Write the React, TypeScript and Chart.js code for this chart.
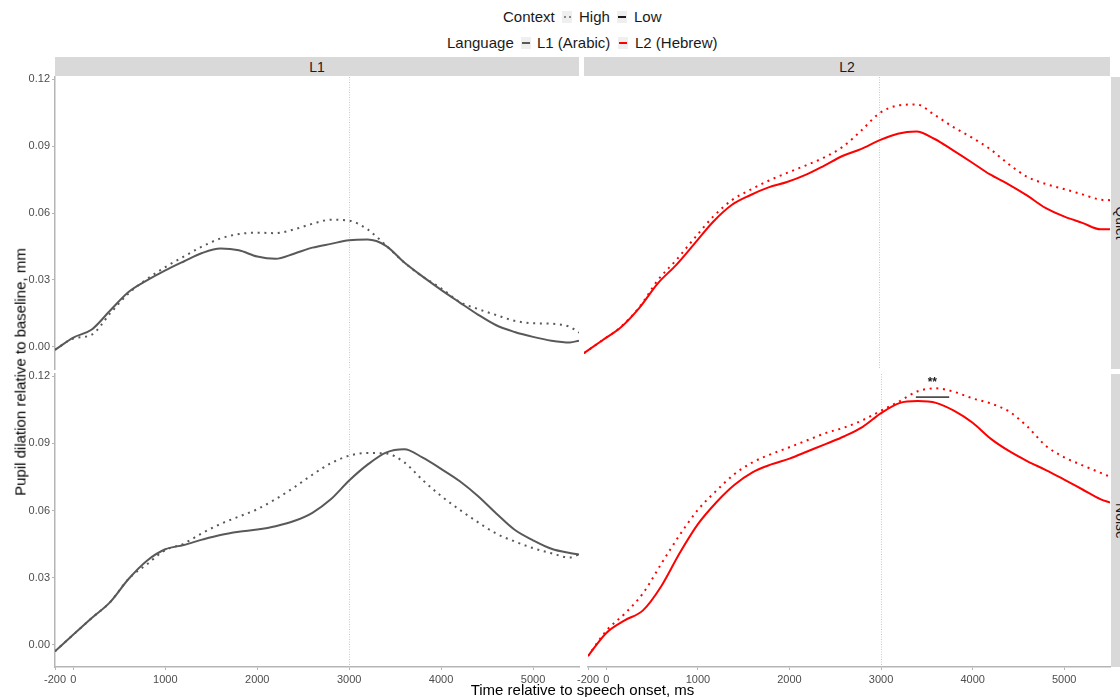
import React, { useEffect, useRef } from "react";
import { Chart, registerables } from "chart.js";

Chart.register(...registerables);

const FONT = '"Liberation Sans", Arial, Helvetica, sans-serif';

// Time grid (ms relative to speech onset)
const timeMs = [-200, 0, 200, 400, 600, 800, 1000, 1200, 1400, 1600, 1800, 2000, 2200, 2400, 2600, 2800, 3000, 3200, 3400, 3600, 3800, 4000, 4200, 4400, 4600, 4800, 5000, 5200, 5400, 5500];

// L1 (Arabic), Quiet
const l1QuietHigh = [-0.0013, 0.0038, 0.0055, 0.015, 0.024, 0.0304, 0.0358, 0.0405, 0.045, 0.0486, 0.0506, 0.0512, 0.051, 0.0527, 0.0552, 0.057, 0.0566, 0.0527, 0.0455, 0.0378, 0.0315, 0.0263, 0.0202, 0.017, 0.0143, 0.0117, 0.0106, 0.0104, 0.009, 0.0064];
const l1QuietLow = [-0.0013, 0.0042, 0.0078, 0.0163, 0.0246, 0.0298, 0.0343, 0.0383, 0.0421, 0.0441, 0.0433, 0.0405, 0.0395, 0.0418, 0.0445, 0.0462, 0.0478, 0.0481, 0.0453, 0.0378, 0.0315, 0.0256, 0.02, 0.0145, 0.0097, 0.0067, 0.0045, 0.0028, 0.002, 0.0028];

// L2 (Hebrew), Quiet
const l2QuietHigh = [-0.0028, 0.003, 0.009, 0.0178, 0.0299, 0.039, 0.0489, 0.0584, 0.0657, 0.0704, 0.0745, 0.078, 0.0813, 0.0849, 0.0896, 0.0968, 0.1047, 0.1082, 0.1087, 0.104, 0.0986, 0.0939, 0.0887, 0.082, 0.0763, 0.0731, 0.0708, 0.0684, 0.066, 0.0658];
const l2QuietLow = [-0.0028, 0.003, 0.0088, 0.0175, 0.0285, 0.0368, 0.0464, 0.0561, 0.0636, 0.068, 0.0715, 0.0739, 0.0771, 0.0812, 0.0856, 0.0887, 0.0926, 0.0956, 0.0966, 0.0932, 0.0881, 0.0828, 0.0773, 0.0729, 0.0679, 0.0623, 0.0585, 0.0556, 0.0527, 0.0528];

// L1 (Arabic), Noise
const l1NoiseHigh = [-0.0029, 0.0046, 0.012, 0.0191, 0.0295, 0.036, 0.0423, 0.0452, 0.0499, 0.054, 0.0573, 0.0606, 0.0651, 0.0703, 0.076, 0.0811, 0.0845, 0.0857, 0.0855, 0.0815, 0.0736, 0.0665, 0.0604, 0.0548, 0.0497, 0.0462, 0.0432, 0.0409, 0.039, 0.0404];
const l1NoiseLow = [-0.0029, 0.0046, 0.012, 0.0191, 0.0294, 0.0376, 0.0427, 0.0446, 0.047, 0.0491, 0.0505, 0.0515, 0.053, 0.0553, 0.059, 0.065, 0.0734, 0.0805, 0.0859, 0.0874, 0.0836, 0.0786, 0.0732, 0.0665, 0.0587, 0.0514, 0.0467, 0.0429, 0.041, 0.0404];

// L2 (Hebrew), Noise
const l2NoiseHigh = [-0.005, 0.0063, 0.0139, 0.023, 0.0362, 0.049, 0.0603, 0.0688, 0.0763, 0.0816, 0.0852, 0.0883, 0.0915, 0.0947, 0.0971, 0.1004, 0.1046, 0.1088, 0.1133, 0.1146, 0.113, 0.1101, 0.1078, 0.1042, 0.0974, 0.0889, 0.0838, 0.0802, 0.0768, 0.0751];
const l2NoiseLow = [-0.005, 0.0053, 0.0109, 0.0154, 0.0262, 0.0409, 0.0539, 0.0636, 0.0715, 0.0772, 0.0806, 0.0832, 0.0865, 0.0898, 0.0932, 0.0974, 0.1035, 0.108, 0.1089, 0.1081, 0.1045, 0.0992, 0.092, 0.0865, 0.082, 0.0781, 0.0738, 0.0694, 0.065, 0.0636];

// Axes
const xTickValues = [-200, 0, 1000, 2000, 3000, 4000, 5000];
const yTickValues = [0, 0.03, 0.06, 0.09, 0.12];
const xMin = -200;
const xMax = 5500;
const yMin = -0.0099;
const yMax = 0.121;

// Annotations
const onsetLineX = 3000;
const sigBarX = [3380, 3744];
const sigBarY = 0.1107;
const sigLabel = "**";
const sigLabelX = 3560;
const sigLabelY = 0.1172;

const L1_COLOR = "#595959";
const L2_COLOR = "#ff0000";
const AXIS_COLOR = "#b5b5b5";
const TICK_TEXT = "#4d4d4d";

const annotPlugin = {
  id: "annot",
  beforeDatasetsDraw(chart: any) {
    const { ctx, chartArea, scales } = chart;
    const x = Math.round(scales.x.getPixelForValue(onsetLineX)) + 0.5;
    ctx.save();
    ctx.strokeStyle = "#c8c8c8";
    ctx.lineWidth = 1;
    ctx.setLineDash([1, 1.5]);
    ctx.beginPath();
    ctx.moveTo(x, chartArea.top);
    ctx.lineTo(x, chartArea.bottom);
    ctx.stroke();
    ctx.restore();
  },
  afterDatasetsDraw(chart: any, _args: any, opts: any) {
    if (!opts || !opts.sig) return;
    const { ctx, scales } = chart;
    ctx.save();
    ctx.fillStyle = "#1a1a1a";
    ctx.font = `bold 12px ${FONT}`;
    ctx.textAlign = "center";
    ctx.textBaseline = "middle";
    ctx.fillText(sigLabel, scales.x.getPixelForValue(sigLabelX), scales.y.getPixelForValue(sigLabelY));
    ctx.restore();
  },
};

type PanelProps = {
  left: number;
  top: number;
  width: number;
  height: number;
  pad: { top: number; right: number; bottom: number; left: number };
  high: number[];
  low: number[];
  color: string;
  showX: boolean;
  showY: boolean;
  sig?: boolean;
};

function Panel(p: PanelProps) {
  const ref = useRef<HTMLCanvasElement>(null);
  useEffect(() => {
    const canvas = ref.current;
    if (!canvas) return;
    const series = (vals: number[], dotted: boolean) => ({
      data: timeMs.map((t, i) => ({ x: t, y: vals[i] })),
      borderColor: p.color,
      borderWidth: 2,
      borderDash: dotted ? [2, 4.7] : [],
      pointRadius: 0,
      cubicInterpolationMode: "monotone" as const,
      fill: false,
    });
    const datasets: any[] = [series(p.low, false), series(p.high, true)];
    if (p.sig) {
      datasets.unshift({
        data: sigBarX.map((x) => ({ x, y: sigBarY })),
        borderColor: "#4d4d4d",
        borderWidth: 1.8,
        pointRadius: 0,
        fill: false,
      });
    }
    const chart = new Chart(canvas, {
      type: "line",
      data: { datasets },
      plugins: [annotPlugin],
      options: {
        responsive: false,
        maintainAspectRatio: false,
        animation: false,
        events: [],
        layout: { padding: p.pad },
        plugins: {
          legend: { display: false },
          tooltip: { enabled: false },
          annot: { sig: !!p.sig },
        } as any,
        scales: {
          x: {
            type: "linear",
            min: xMin,
            max: xMax,
            display: p.showX,
            afterBuildTicks: (s: any) => {
              s.ticks = xTickValues.map((v) => ({ value: v }));
            },
            afterFit: (s: any) => {
              s.height = p.showX ? 30 : 0;
            },
            ticks: {
              autoSkip: false,
              maxRotation: 0,
              color: TICK_TEXT,
              padding: 3,
              font: { size: 11, family: FONT },
              callback: (v: any) => String(v),
            },
            grid: { drawOnChartArea: false, drawTicks: true, tickLength: 3, color: AXIS_COLOR, lineWidth: 1 },
            border: { display: true, color: AXIS_COLOR, width: 1.5 },
          },
          y: {
            type: "linear",
            min: yMin,
            max: yMax,
            display: p.showY,
            afterBuildTicks: (s: any) => {
              s.ticks = yTickValues.map((v) => ({ value: v }));
            },
            afterFit: (s: any) => {
              s.width = p.showY ? 55 : 0;
            },
            ticks: {
              color: TICK_TEXT,
              padding: 2,
              font: { size: 11, family: FONT },
              callback: (v: any) => Number(v).toFixed(2),
            },
            grid: { drawOnChartArea: false, drawTicks: true, tickLength: 3, color: AXIS_COLOR, lineWidth: 1 },
            border: { display: true, color: AXIS_COLOR, width: 1.5 },
          },
        },
      } as any,
    });
    return () => chart.destroy();
  }, []);
  return (
    <canvas
      ref={ref}
      width={p.width}
      height={p.height}
      style={{ position: "absolute", left: p.left, top: p.top, width: p.width, height: p.height }}
    />
  );
}

const abs = (s: React.CSSProperties): React.CSSProperties => ({ position: "absolute", ...s });

function Key({ left, top, kind, color }: { left: number; top: number; kind: "solid" | "dotted"; color: string }) {
  return (
    <div style={abs({ left, top, width: 10, height: 12, background: "#efefef" })}>
      {kind === "solid" ? (
        <div style={abs({ left: 1, top: 5, width: 8, height: 2, background: color })} />
      ) : (
        <>
          <div style={abs({ left: 2, top: 5, width: 2, height: 2, background: color })} />
          <div style={abs({ left: 6.5, top: 5, width: 2, height: 2, background: color })} />
        </>
      )}
    </div>
  );
}

function Label({ left, cy, text, size = 15, color = "#1a1a1a" }: { left: number; cy: number; text: string; size?: number; color?: string }) {
  return (
    <div style={abs({ left, top: cy - 10, height: 20, lineHeight: "20px", fontSize: size, color, whiteSpace: "nowrap" })}>{text}</div>
  );
}

export default function App() {
  const stripStyle: React.CSSProperties = {
    background: "#d9d9d9",
    color: "#1a1a1a",
    fontSize: 14,
    display: "flex",
    alignItems: "center",
    justifyContent: "center",
  };
  return (
    <div
      style={{
        position: "fixed",
        left: 0,
        top: 0,
        width: 1120,
        height: 697,
        overflow: "hidden",
        background: "#ffffff",
        fontFamily: FONT,
      }}
    >
      {/* Legend */}
      <Label left={503} cy={17} text="Context" />
      <Key left={562} top={11} kind="dotted" color="#8a8a8a" />
      <Label left={579} cy={17} text="High" />
      <Key left={617} top={11} kind="solid" color="#1a1a1a" />
      <Label left={634} cy={17} text="Low" />
      <Label left={447} cy={43} text="Language" />
      <Key left={521} top={37} kind="solid" color={L1_COLOR} />
      <Label left={537} cy={43} text="L1 (Arabic)" />
      <Key left={618} top={37} kind="solid" color={L2_COLOR} />
      <Label left={635} cy={43} text="L2 (Hebrew)" />

      {/* Strips */}
      <div style={abs({ left: 55, top: 57, width: 524, height: 19, ...stripStyle })}>L1</div>
      <div style={abs({ left: 584, top: 57, width: 526, height: 19, ...stripStyle })}>L2</div>
      <div style={abs({ left: 1111, top: 77, width: 20, height: 292, ...stripStyle })}>
        <div style={{ transform: "rotate(90deg)", whiteSpace: "nowrap" }}>Quiet</div>
      </div>
      <div style={abs({ left: 1111, top: 374, width: 20, height: 293, ...stripStyle })}>
        <div style={{ transform: "rotate(90deg)", whiteSpace: "nowrap" }}>Noise</div>
      </div>

      {/* Panels */}
      <Panel left={0} top={67} width={590} height={312} pad={{ top: 10, right: 11, bottom: 10, left: 0 }} high={l1QuietHigh} low={l1QuietLow} color={L1_COLOR} showX={false} showY={true} />
      <Panel left={574} top={67} width={546} height={312} pad={{ top: 10, right: 10, bottom: 10, left: 10 }} high={l2QuietHigh} low={l2QuietLow} color={L2_COLOR} showX={false} showY={false} />
      <Panel left={0} top={364} width={590} height={333} pad={{ top: 10, right: 11, bottom: 0, left: 0 }} high={l1NoiseHigh} low={l1NoiseLow} color={L1_COLOR} showX={true} showY={true} />
      <Panel left={574} top={364} width={546} height={333} pad={{ top: 10, right: 10, bottom: 0, left: 10 }} high={l2NoiseHigh} low={l2NoiseLow} color={L2_COLOR} showX={true} showY={false} sig={true} />

      {/* Axis titles */}
      <div
        style={abs({
          left: 20,
          top: 372,
          transform: "translate(-50%, -50%) rotate(-90deg)",
          fontSize: 15,
          color: "#000000",
          whiteSpace: "nowrap",
        })}
      >
        Pupil dilation relative to baseline, mm
      </div>
      <div
        style={abs({
          left: 582.5,
          top: 689,
          transform: "translate(-50%, -50%)",
          fontSize: 15,
          color: "#000000",
          whiteSpace: "nowrap",
        })}
      >
        Time relative to speech onset, ms
      </div>
    </div>
  );
}
